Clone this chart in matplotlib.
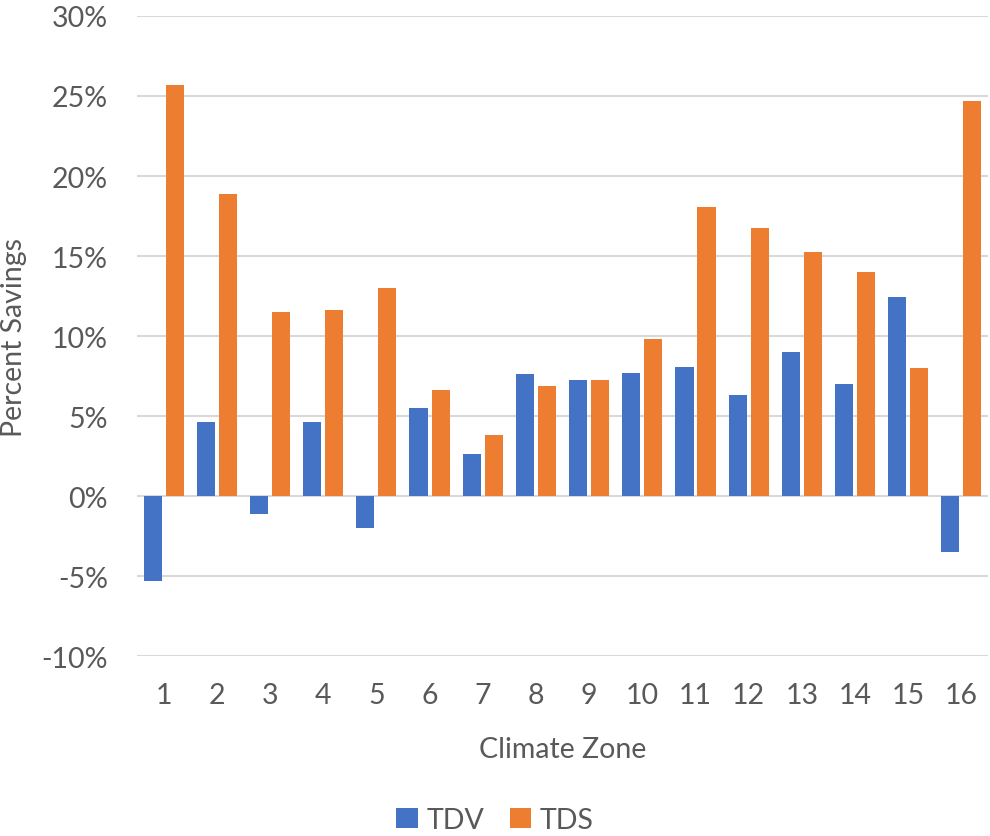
import matplotlib
matplotlib.use("Agg")
import matplotlib.pyplot as plt
import numpy as np

plt.rcParams['font.family'] = ['Lato', 'DejaVu Sans']

zones = [str(i) for i in range(1, 17)]
tdv = [-5.3, 4.65, -1.1, 4.6, -2.0, 5.5, 2.65, 7.65, 7.25, 7.7, 8.05, 6.3, 9.0, 7.0, 12.45, -3.5]
tds = [25.7, 18.85, 11.5, 11.65, 13.0, 6.6, 3.8, 6.85, 7.25, 9.8, 18.05, 16.75, 15.25, 14.0, 8.0, 24.7]

blue = '#4472C4'
orange = '#ED7D31'
grey = '#595959'
fs = 20.5

fig = plt.figure(figsize=(9.9, 8.37), dpi=100)
ax = fig.add_axes([0.1384, 0.215, 0.8596, 0.7647])

x = np.arange(len(zones))
w = 0.34
ax.bar(x - 0.207, tdv, width=w, color=blue, label='TDV', zorder=3)
ax.bar(x + 0.207, tds, width=w, color=orange, label='TDS', zorder=3)

ax.set_xlim(-0.5, len(zones) - 0.5)
ax.set_ylim(-10, 30)
ax.set_yticks(np.arange(-10, 31, 5))
ax.set_yticklabels([f'{v}%' for v in range(-10, 31, 5)])
ax.set_xticks(x)
ax.set_xticklabels(zones)
ax.yaxis.grid(True, color='#d9d9d9', linewidth=1.5, zorder=0)
ax.set_axisbelow(True)
for s in ax.spines.values():
    s.set_visible(False)
ax.tick_params(length=0, labelsize=fs, colors=grey)
ax.tick_params(axis='x', pad=19)
ax.tick_params(axis='y', pad=21)

ax.set_xlabel('Climate Zone', fontsize=fs, color=grey, labelpad=20)
ax.set_ylabel('Percent Savings', fontsize=fs, color=grey, labelpad=10)

leg = fig.legend(loc='lower center', bbox_to_anchor=(0.5, -0.027), ncol=2, frameon=False,
                 fontsize=fs, handlelength=0.75, handleheight=0.75, handletextpad=0.3,
                 columnspacing=0.9)
for t in leg.get_texts():
    t.set_color(grey)

fig.savefig('out.png', dpi=100)
